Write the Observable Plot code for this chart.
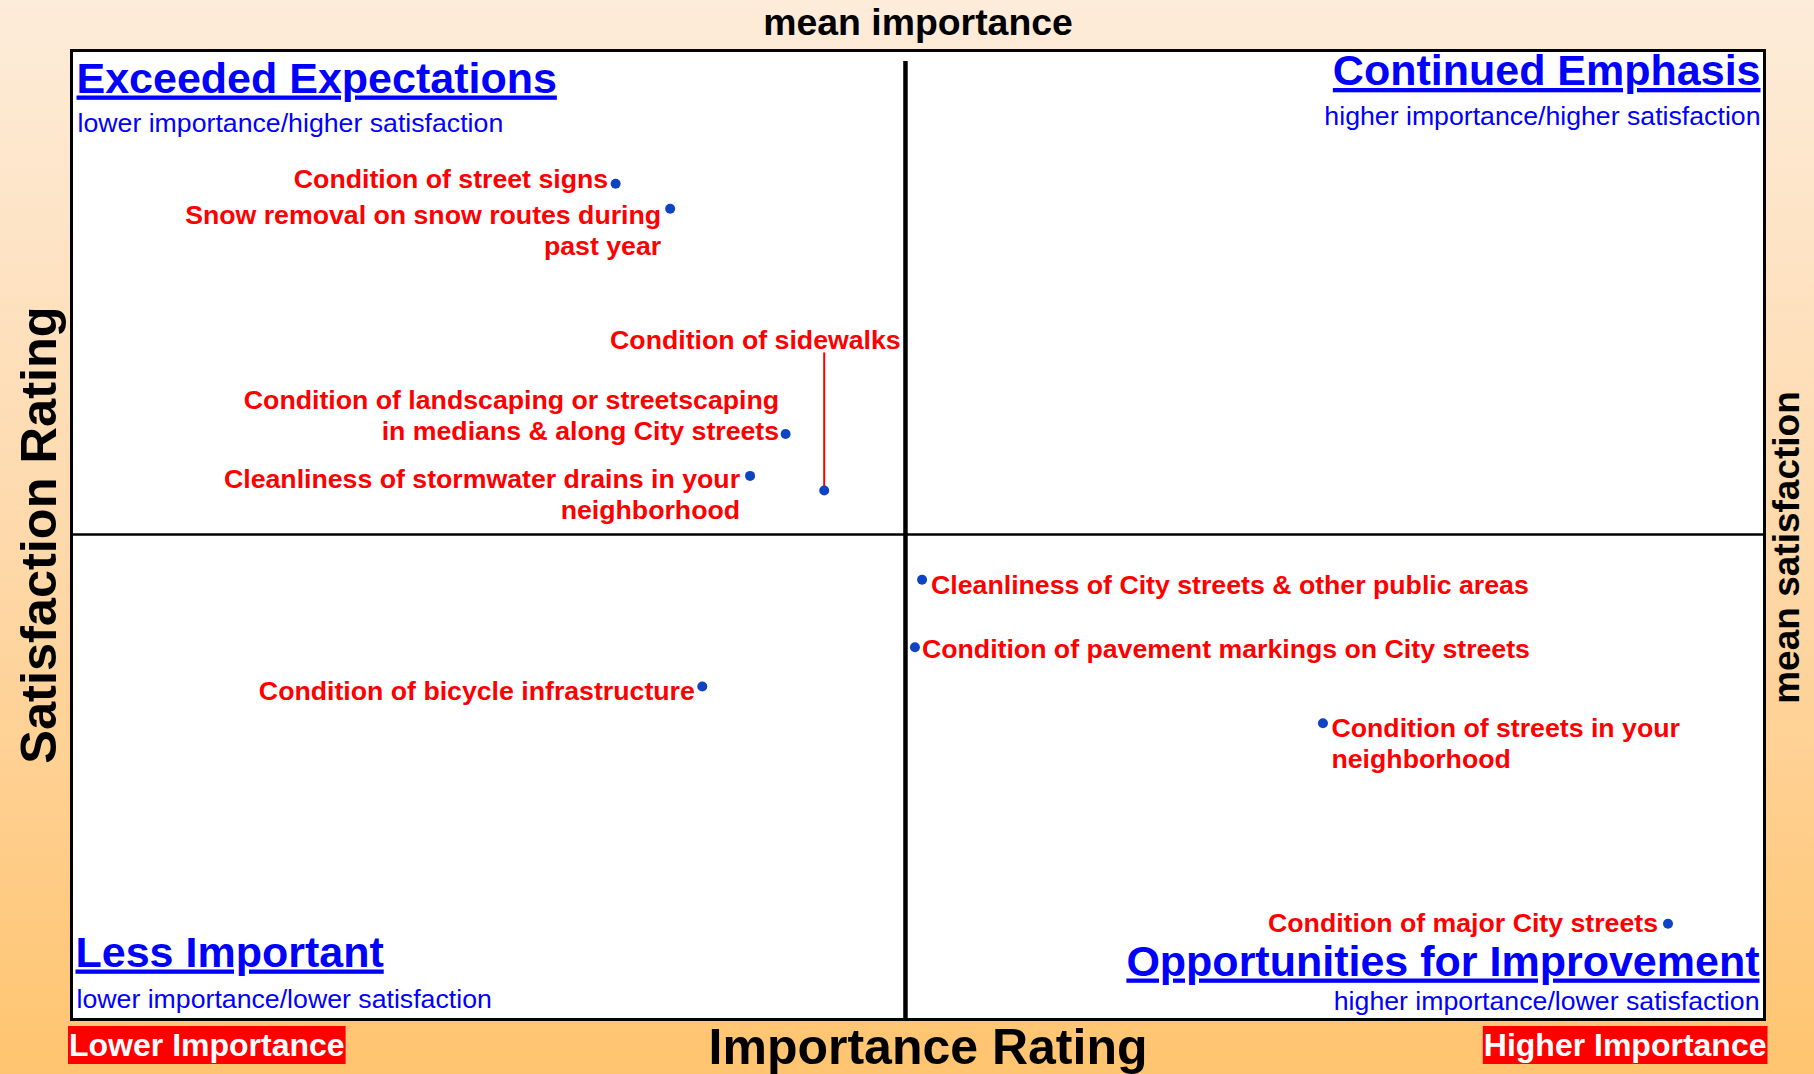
<!DOCTYPE html>
<html>
<head>
<meta charset="utf-8">
<script src="https://cdn.jsdelivr.net/npm/d3@7"></script>
<script src="https://cdn.jsdelivr.net/npm/@observablehq/plot@0.6"></script>
<style>
  html, body { margin: 0; padding: 0; overflow: hidden; background: #ffc46f; }
  #chart svg { display: block; }
</style>
</head>
<body>
<div id="chart"></div>
<script>
// ---- data ----
const items = [
  "Condition of street signs",
  "Snow removal on snow routes during\npast year",
  "Condition of sidewalks",
  "Condition of landscaping or streetscaping\nin medians & along City streets",
  "Cleanliness of stormwater drains in your\nneighborhood",
  "Condition of bicycle infrastructure",
  "Cleanliness of City streets & other public areas",
  "Condition of pavement markings on City streets",
  "Condition of streets in your\nneighborhood",
  "Condition of major City streets"
];
const importance   = [16.07, 17.68, 22.23, 21.09, 20.04, 18.63, 25.12, 24.91, 36.96, 47.15];
const satisfaction = [73.12, 71.83, 57.30, 60.21, 58.05, 47.18, 52.69, 49.21, 45.29, 34.94];
const meanImportance = 24.63;
const meanSatisfaction = 55.03;
const xDomain = [0, 50];
const yDomain = [30, 80];

const quadrantTitles = ["Exceeded Expectations", "Continued Emphasis", "Less Important", "Opportunities for Improvement"];
const quadrantSubtitles = ["lower importance/higher satisfaction", "higher importance/higher satisfaction", "lower importance/lower satisfaction", "higher importance/lower satisfaction"];
const axisTitles = ["mean importance", "Importance Rating", "Satisfaction Rating", "mean satisfaction"];
const endLabels = ["Lower Importance", "Higher Importance"];

// ---- layout (label placement, pixels) ----
const W = 1814, H = 1074;
const M = {top: 50, right: 50, bottom: 55, left: 71};
const labelLayout = [
  {anchor: "end", dx: -7.5, cy: -5},
  {anchor: "end", dx: -9, cy: 5.5},
  {anchor: "end", dx: 76.5, cy: -150.5},
  {anchor: "end", dx: -6.5, cy: -34.5},
  {anchor: "end", dx: -10, cy: 3},
  {anchor: "end", dx: -7.5, cy: 3.5},
  {anchor: "start", dx: 9, cy: 4.5},
  {anchor: "start", dx: 7, cy: 1.5},
  {anchor: "start", dx: 8.5, cy: 4},
  {anchor: "end", dx: -10, cy: -1}
];
const leaderIndex = 2, leaderPx = 138;
const pxPerY = (H - M.top - M.bottom) / (yDomain[1] - yDomain[0]);

const FONT = "Liberation Sans, Arial, Helvetica, sans-serif";
const RED = "#ff0000", BLUE = "#0000ff", DOT = "#1043c4";
const LABEL_FS = 26.7, LH = 1.16, TITLE_FS = 43;

const idx = items.map((d, i) => i);

const labelMarks = idx.map(i => Plot.text([i], {
  x: j => importance[j], y: j => satisfaction[j], text: j => items[j],
  textAnchor: labelLayout[i].anchor, lineAnchor: "top", lineHeight: LH,
  dx: labelLayout[i].dx, dy: labelLayout[i].cy - 12.5,
  fill: RED, fontSize: LABEL_FS, fontWeight: "bold"
}));

const t = (s, o) => Plot.text([s], {text: d => d, ...o});

const svg = Plot.plot({
  width: W, height: H,
  marginTop: M.top, marginRight: M.right, marginBottom: M.bottom, marginLeft: M.left,
  x: {domain: xDomain, axis: null},
  y: {domain: yDomain, axis: null},
  style: {fontFamily: FONT, background: "linear-gradient(to bottom, #fdecda 0%, #fed9ab 50%, #ffc46f 100%)", overflow: "hidden"},
  marks: [
    Plot.frame({fill: "white"}),
    Plot.ruleY([meanSatisfaction], {stroke: "black", strokeWidth: 2.5}),
    Plot.ruleX([meanImportance], {stroke: "black", strokeWidth: 4.5, insetTop: 11}),
    Plot.frame({stroke: "black", strokeWidth: 3}),
    // quadrant titles
    t(quadrantTitles[0], {frameAnchor: "top-left", textAnchor: "start", lineAnchor: "bottom", dx: 5, dy: 42, fill: BLUE, fontSize: TITLE_FS, fontWeight: "bold"}),
    t(quadrantSubtitles[0], {frameAnchor: "top-left", textAnchor: "start", lineAnchor: "bottom", dx: 6, dy: 81.5, fill: BLUE, fontSize: LABEL_FS}),
    t(quadrantTitles[1], {frameAnchor: "top-right", textAnchor: "end", lineAnchor: "bottom", dx: -4, dy: 34.5, fill: BLUE, fontSize: TITLE_FS, fontWeight: "bold"}),
    t(quadrantSubtitles[1], {frameAnchor: "top-right", textAnchor: "end", lineAnchor: "bottom", dx: -4, dy: 74, fill: BLUE, fontSize: LABEL_FS}),
    t(quadrantTitles[2], {frameAnchor: "bottom-left", textAnchor: "start", lineAnchor: "bottom", dx: 4, dy: -53, fill: BLUE, fontSize: TITLE_FS, fontWeight: "bold"}),
    t(quadrantSubtitles[2], {frameAnchor: "bottom-left", textAnchor: "start", lineAnchor: "bottom", dx: 5, dy: -12, fill: BLUE, fontSize: LABEL_FS}),
    t(quadrantTitles[3], {frameAnchor: "bottom-right", textAnchor: "end", lineAnchor: "bottom", dx: -5, dy: -44, fill: BLUE, fontSize: TITLE_FS, fontWeight: "bold"}),
    t(quadrantSubtitles[3], {frameAnchor: "bottom-right", textAnchor: "end", lineAnchor: "bottom", dx: -5, dy: -10, fill: BLUE, fontSize: LABEL_FS}),
    // axis titles
    t(axisTitles[0], {frameAnchor: "top", textAnchor: "middle", lineAnchor: "bottom", dx: 0, dy: -16, fill: "black", fontSize: 37.4, fontWeight: "bold"}),
    t(axisTitles[1], {frameAnchor: "bottom", textAnchor: "middle", lineAnchor: "bottom", dx: 10, dy: 44, fill: "black", fontSize: 50, fontWeight: "bold"}),
    t(axisTitles[2], {frameAnchor: "left", textAnchor: "middle", lineAnchor: "bottom", rotate: -90, dx: -16, dy: 0, fill: "black", fontSize: 50.5, fontWeight: "bold"}),
    t(axisTitles[3], {frameAnchor: "right", textAnchor: "middle", lineAnchor: "bottom", rotate: -90, dx: 34, dy: 12.5, fill: "black", fontSize: 37, fontWeight: "bold"}),
    t(endLabels[0], {frameAnchor: "bottom-left", textAnchor: "start", lineAnchor: "bottom", dx: -2.5, dy: 36, fill: "white", fontSize: 32, fontWeight: "bold"}),
    t(endLabels[1], {frameAnchor: "bottom-right", textAnchor: "end", lineAnchor: "bottom", dx: 2, dy: 36, fill: "white", fontSize: 32, fontWeight: "bold"}),
    // leader line for sidewalks
    Plot.link([leaderIndex], {
      x1: i => importance[i], y1: i => satisfaction[i],
      x2: i => importance[i], y2: i => satisfaction[i] + leaderPx / pxPerY,
      stroke: RED, strokeWidth: 2
    }),
    ...labelMarks,
    Plot.dot(idx, {x: i => importance[i], y: i => satisfaction[i], r: 5, fill: DOT, stroke: "none"})
  ]
});
document.getElementById("chart").append(svg);

// underline quadrant titles
d3.select(svg).selectAll("text")
  .filter(function() { return quadrantTitles.includes(this.textContent); })
  .attr("text-decoration", "underline");

// red boxes behind end labels
d3.select(svg).selectAll("text")
  .filter(function() { return endLabels.includes(this.textContent); })
  .each(function() {
    const b = this.getBBox();
    const r = document.createElementNS("http://www.w3.org/2000/svg", "rect");
    r.setAttribute("x", b.x - 1);
    r.setAttribute("y", b.y - 0.5);
    r.setAttribute("width", b.width + 2);
    r.setAttribute("height", b.height + 2);
    r.setAttribute("fill", "#ff0000");
    const tr = this.getAttribute("transform");
    if (tr) r.setAttribute("transform", tr);
    this.parentNode.insertBefore(r, this);
  });
</script>
</body>
</html>
